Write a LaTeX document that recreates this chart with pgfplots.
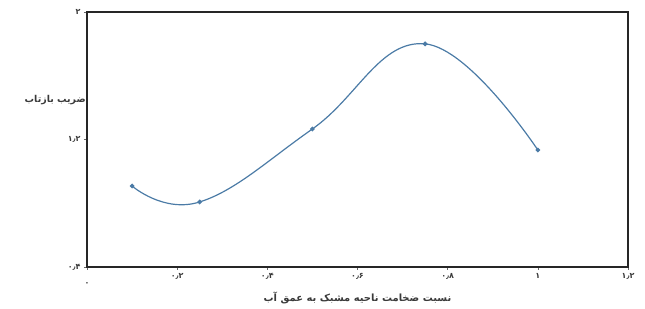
\documentclass[border=0pt]{standalone}
\usepackage{pgfplots}
\pgfplotsset{compat=1.18}
\usepackage{fontspec}
\setmainfont{DejaVu Sans}
\newfontfamily\arabicfont[Script=Arabic]{DejaVu Sans}
\TeXXeTstate=1
\definecolor{curve}{HTML}{4B7BA6}
\definecolor{txt}{HTML}{3A3A3A}
\begin{document}
\begin{tikzpicture}
\begin{axis}[
  scale only axis,
  width=541bp, height=255bp,
  xmin=0, xmax=1.2, ymin=0.4, ymax=2,
  xtick={0,0.2,0.4,0.6,0.8,1,1.2},
  xticklabels={\raisebox{-12bp}{۰},۰٫۲,۰٫۴,۰٫۶,۰٫۸,۱,۱٫۲},
  ytick={0.4,1.2,2},
  yticklabels={۰٫۴,۱٫۲,۲},
  xtick pos=bottom, ytick pos=left,
  tick label style={font=\arabicfont\bfseries\fontsize{8}{9}\selectfont, text=txt},
  axis line style={line width=1.5pt, black!85},
  tick style={black!60, line width=0.5pt},
  tick align=outside,
  major tick length=3bp,
  clip=false,
]
\addplot[curve, line width=1.2pt, smooth, tension=0.72, mark=*, mark size=1.7pt, mark options={fill=curve, draw=curve}]
  coordinates {(0.10,0.908) (0.25,0.808) (0.50,1.266) (0.75,1.80) (1.00,1.134)};
\node[anchor=east, font=\arabicfont\bfseries\fontsize{9.5}{10}\selectfont, text=txt, inner sep=1bp] at (rel axis cs:0,0.655) {\beginR ضریب بازتاب\endR};
\node[anchor=center, font=\arabicfont\bfseries\fontsize{10}{11}\selectfont, text=txt] at (axis cs:0.6,0.4) [yshift=-31bp] {\beginR نسبت ضخامت ناحیه مشبک به عمق آب\endR};
\path (rel axis cs:-0.1608,-0.1647) rectangle (rel axis cs:1.0314,1.047);
\end{axis}
\end{tikzpicture}
\end{document}
